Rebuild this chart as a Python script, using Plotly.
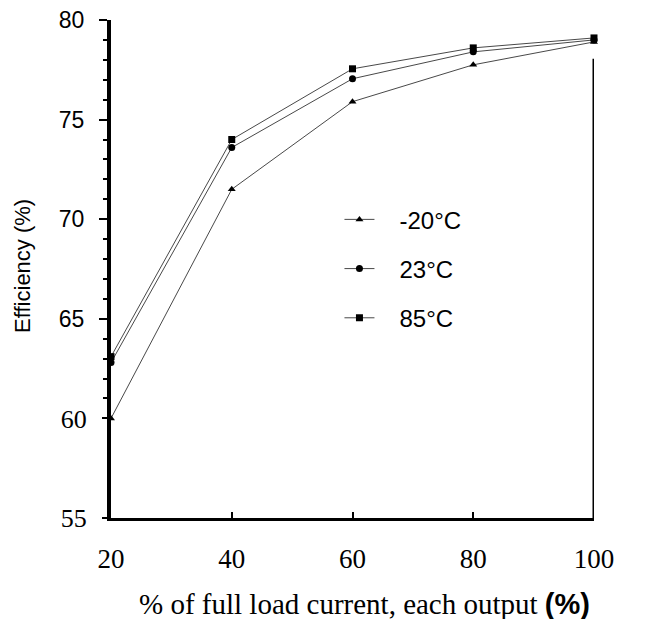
import plotly.graph_objects as go

load_pct = [20, 40, 60, 80, 100]
eff_m20 = [60.0, 71.5, 75.9, 77.75, 78.9]
eff_23 = [62.8, 73.6, 77.05, 78.4, 79.0]
eff_85 = [63.1, 74.0, 77.55, 78.6, 79.1]
series_names = ["-20°C", "23°C", "85°C"]
y_ticks_sans = [65, 70, 75, 80]
y_ticks_serif = [55, 60]
y_minor_ticks = [61, 62, 63, 64, 66, 67, 68, 69, 71, 72, 73, 74, 76, 77, 78, 79]
x_tick_vals = [20, 40, 60, 80, 100]
x_tick_text = ["20", "40", "60", "80", "100"]
x_title = "% of full load current, each output"
y_title = "Efficiency (%)"

SERIF = "Liberation Serif, Times New Roman, serif"
SANS = "Liberation Sans, Arial, sans-serif"

fig = go.Figure()
symbols = ["triangle-up", "circle", "square"]
sizes = [7, 7, 7]
for i, (name, vals, sym, sz) in enumerate(zip(series_names, [eff_m20, eff_23, eff_85], symbols, sizes)):
    fig.add_trace(go.Scatter(
        x=load_pct, y=vals, name="\u00a0\u00a0\u00a0" + name, mode="lines+markers",
        legendgroup=f"g{i}",
        line=dict(color="#333333", width=0.9),
        marker=dict(symbol=sym, size=sz, color="black"),
        cliponaxis=False,
    ))
# invisible anchor trace so the secondary (serif-labelled) y axis is drawn
fig.add_trace(go.Scatter(
    x=[load_pct[0]], y=[eff_m20[0]], yaxis="y2", mode="markers",
    marker=dict(opacity=0), showlegend=False, hoverinfo="skip",
))

fig.update_layout(
    width=649, height=619,
    margin=dict(l=103, r=63, t=12, b=109),
    paper_bgcolor="white", plot_bgcolor="white",
    showlegend=True,
    legend=dict(x=0.473, y=0.644, xanchor="left", yanchor="top",
                traceorder="grouped",
                font=dict(family=SANS, size=24, color="black"),
                tracegroupgap=15, bgcolor="rgba(0,0,0,0)"),
    font=dict(family=SANS, color="black"),
    yaxis2=dict(
        overlaying="y", side="left", range=[55, 80], tickvals=y_ticks_serif,
        showgrid=False, zeroline=False, showline=False, automargin=False,
        ticks="outside", ticklen=8, tickwidth=2, tickcolor="black",
        ticklabelstandoff=10, ticklabeloverflow="allow",
        tickfont=dict(family=SERIF, size=26, color="black"),
    ),
)
fig.update_xaxes(
    range=[20, 100], tickvals=x_tick_vals, ticktext=x_tick_text, automargin=False,
    showgrid=False, zeroline=False, showline=True, linecolor="black", linewidth=3,
    ticks="inside", ticklen=6, tickwidth=2, tickcolor="black",
    ticklabelstandoff=15, ticklabeloverflow="allow",
    tickfont=dict(family=SERIF, size=27, color="black"),
)
fig.update_layout(yaxis=dict(
    range=[55, 80], tickvals=y_ticks_sans, automargin=False,
    showgrid=False, zeroline=False, showline=True, linecolor="black", linewidth=4,
    ticks="outside", ticklen=8, tickwidth=2, tickcolor="black",
    ticklabelstandoff=10, ticklabeloverflow="allow",
    tickfont=dict(family=SANS, size=23, color="black"),
    minor=dict(tickvals=y_minor_ticks, ticks="outside", ticklen=4, tickwidth=2, tickcolor="black"),
))
# right border line
fig.add_shape(type="line", xref="x", yref="y", x0=100, x1=100, y0=55, y1=78.05,
              line=dict(color="black", width=3))
# y axis title
fig.add_annotation(
    xref="paper", yref="paper", x=-0.1845, y=0.506, xanchor="center", yanchor="middle",
    showarrow=False, textangle=-90, text=y_title,
    font=dict(family=SANS, size=22, color="black"),
)
# x axis title
fig.add_annotation(
    xref="paper", yref="paper", x=0.5257, y=-0.172, xanchor="center", yanchor="middle",
    showarrow=False,
    text=x_title + ' <span style="font-family:Liberation Sans;font-weight:bold">(%)</span>',
    font=dict(family=SERIF, size=29, color="black"),
)
fig.write_html("out.html")
